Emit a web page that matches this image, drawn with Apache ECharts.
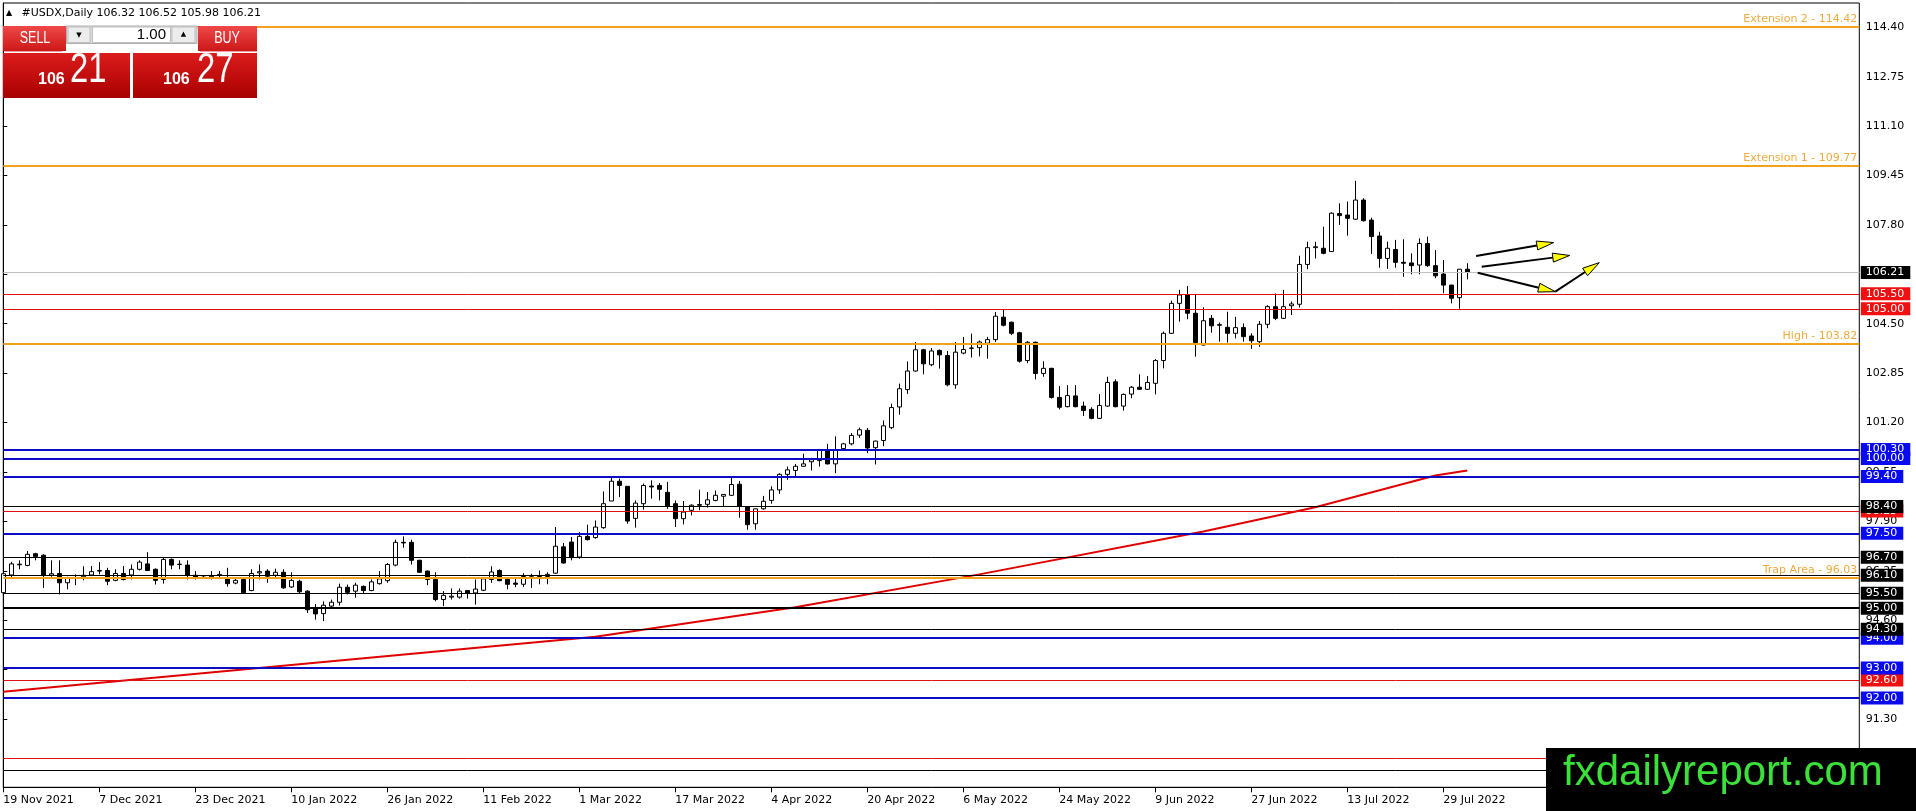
<!DOCTYPE html>
<html>
<head>
<meta charset="UTF-8">
<title>#USDX,Daily</title>
<style>
html, body { margin: 0; padding: 0; background: #fff; }
#main { width: 1916px; height: 811px; }
</style>
</head>
<body>
<div id="main"></div>
<script src="https://cdn.jsdelivr.net/npm/echarts@6/dist/echarts.min.js"></script>
<script>
// daily bars, one per weekday starting 19 Nov 2021
var startDate = [2021, 10, 19];
var totalSlots = 233; // bars + empty space to the right

var opens = [
	95.52, 96.11, 96.47, 96.43, 96.82, 96.77, 96.10, 96.16, 95.85, 96.00, 96.05, 96.11,
	96.24, 96.26, 95.93, 96.16, 96.11, 96.30, 96.48, 96.30, 95.96, 96.63, 96.46, 96.44,
	96.10, 96.02, 96.05, 96.10, 96.02, 95.84, 95.96, 95.59, 96.18, 96.24, 96.10, 96.20,
	95.71, 95.90, 95.57, 94.99, 94.82, 95.07, 95.20, 95.70, 95.57, 95.73, 95.59, 95.82,
	95.92, 96.44, 97.20, 97.20, 96.60, 96.24, 95.96, 95.29, 95.37, 95.37, 95.59, 95.51,
	95.60, 95.96, 96.26, 95.97, 95.84, 95.80, 96.03, 96.03, 96.06, 96.17, 97.05, 97.21,
	96.71, 97.40, 97.36, 97.69, 98.58, 99.24, 99.07, 98.00, 98.49, 99.08, 99.10, 98.87,
	98.49, 97.99, 98.27, 98.46, 98.47, 98.60, 98.74, 98.77, 99.14, 98.38, 97.82, 98.32,
	98.60, 98.95, 99.47, 99.60, 99.74, 99.89, 99.93, 100.25, 99.82, 100.33, 100.49, 100.78,
	100.94, 100.36, 100.60, 101.03, 101.72, 102.30, 102.92, 103.63, 103.13, 103.61, 103.44, 102.46,
	103.52, 103.68, 103.70, 103.85, 103.97, 104.72, 104.55, 104.20, 103.27, 103.88, 102.84, 103.01,
	102.04, 101.73, 102.09, 101.75, 101.64, 101.34, 101.75, 102.56, 101.75, 102.15, 102.38, 102.31,
	102.51, 103.27, 104.18, 105.18, 105.46, 104.85, 103.79, 104.68, 104.47, 104.38, 104.18, 104.37,
	104.09, 103.90, 104.48, 105.07, 104.68, 105.10, 105.15, 106.48, 107.04, 107.02, 106.91, 108.18,
	108.13, 107.99, 108.63, 107.96, 107.43, 106.68, 106.98, 106.55, 106.53, 106.46, 107.18, 106.44,
	106.16, 105.79, 105.37, 106.32
];
var highs = [
	96.20, 96.55, 96.60, 96.91, 96.85, 96.80, 96.60, 96.60, 96.05, 96.13, 96.40, 96.41,
	96.54, 96.35, 96.30, 96.41, 96.46, 96.60, 96.87, 96.33, 96.68, 96.66, 96.60, 96.60,
	96.24, 96.08, 96.24, 96.24, 96.35, 96.02, 96.00, 96.30, 96.46, 96.30, 96.32, 96.30,
	96.20, 95.95, 95.60, 95.14, 95.23, 95.29, 95.82, 95.79, 95.85, 95.76, 95.96, 96.24,
	96.51, 97.29, 97.40, 97.29, 96.62, 96.26, 96.20, 95.57, 95.66, 95.66, 95.60, 95.96,
	96.02, 96.40, 96.30, 96.00, 95.98, 96.17, 96.15, 96.26, 96.20, 97.71, 97.18, 97.38,
	97.54, 97.79, 97.93, 98.90, 99.38, 99.33, 99.07, 98.60, 99.16, 99.27, 99.18, 99.22,
	98.60, 98.58, 98.47, 98.96, 98.88, 98.93, 98.80, 99.40, 99.25, 98.40, 98.32, 98.75,
	99.07, 99.51, 99.73, 99.82, 100.16, 100.02, 100.32, 100.49, 100.74, 100.52, 100.85, 101.03,
	101.02, 100.60, 101.27, 101.83, 102.50, 103.24, 103.89, 103.66, 103.69, 103.64, 103.59, 103.89,
	104.06, 104.17, 103.94, 104.06, 104.89, 104.97, 104.57, 104.23, 103.92, 103.90, 103.25, 103.03,
	102.42, 102.45, 102.45, 101.90, 101.71, 102.15, 102.73, 102.64, 102.17, 102.42, 102.81, 102.75,
	103.32, 104.24, 105.27, 105.63, 105.76, 105.46, 105.05, 104.79, 104.54, 104.90, 104.73, 104.51,
	104.18, 104.59, 105.12, 105.51, 105.63, 105.24, 106.77, 107.24, 107.24, 107.74, 108.22, 108.52,
	108.58, 109.27, 108.69, 108.04, 107.57, 107.24, 107.30, 107.32, 106.85, 107.35, 107.41, 106.96,
	106.63, 105.80, 106.33, 106.52
];
var lows = [
	95.50, 96.02, 96.30, 96.40, 96.60, 95.68, 96.05, 95.46, 95.63, 95.77, 95.93, 96.07,
	96.13, 95.77, 95.90, 95.93, 95.96, 96.26, 96.24, 95.79, 95.82, 96.30, 96.30, 95.96,
	95.96, 95.98, 95.96, 96.02, 95.72, 95.80, 95.50, 95.57, 95.96, 95.85, 96.00, 95.65,
	95.68, 95.50, 94.84, 94.62, 94.57, 95.03, 95.09, 95.46, 95.35, 95.48, 95.57, 95.79,
	95.85, 96.40, 97.02, 96.46, 96.18, 95.77, 95.23, 95.07, 95.29, 95.32, 95.32, 95.12,
	95.57, 95.85, 95.90, 95.63, 95.70, 95.71, 95.68, 95.80, 95.80, 96.15, 96.49, 96.60,
	96.65, 97.26, 97.32, 97.65, 98.58, 98.71, 97.82, 97.69, 98.29, 98.66, 98.60, 98.32,
	97.71, 97.80, 98.10, 98.27, 98.36, 98.57, 98.40, 98.75, 98.02, 97.62, 97.62, 98.29,
	98.49, 98.82, 99.29, 99.38, 99.73, 99.60, 99.73, 99.80, 99.51, 100.30, 100.44, 100.69,
	100.18, 99.80, 100.41, 100.98, 101.46, 102.16, 102.90, 102.81, 103.08, 103.00, 102.41, 102.33,
	103.48, 103.37, 103.41, 103.33, 103.89, 104.41, 104.12, 103.20, 103.18, 102.64, 102.73, 102.00,
	101.64, 101.71, 101.71, 101.42, 101.31, 101.32, 101.73, 101.71, 101.60, 102.01, 102.29, 102.29,
	102.14, 103.01, 104.16, 104.57, 104.65, 103.40, 103.77, 104.20, 103.90, 103.87, 104.01, 103.90,
	103.66, 103.73, 104.35, 104.62, 104.66, 104.79, 105.04, 106.32, 106.68, 106.82, 106.90, 107.80,
	107.44, 107.97, 107.91, 106.83, 106.37, 106.33, 106.37, 106.07, 106.15, 106.15, 106.40, 106.02,
	105.52, 105.18, 105.00, 105.98
];
var closes = [
	96.15, 96.48, 96.45, 96.80, 96.73, 96.11, 96.15, 95.85, 96.00, 96.02, 96.10, 96.22,
	96.26, 95.90, 96.16, 95.96, 96.30, 96.54, 96.26, 95.93, 96.63, 96.44, 96.47, 96.11,
	96.02, 96.04, 96.08, 96.13, 95.82, 95.93, 95.52, 96.16, 96.22, 96.07, 96.20, 95.68,
	95.93, 95.55, 94.95, 94.81, 95.10, 95.20, 95.70, 95.53, 95.77, 95.59, 95.88, 95.98,
	96.46, 97.20, 97.18, 96.60, 96.20, 95.96, 95.29, 95.43, 95.40, 95.57, 95.51, 95.64,
	95.98, 96.21, 95.92, 95.80, 95.80, 96.06, 96.05, 96.06, 96.13, 97.07, 96.51, 96.69,
	97.40, 97.29, 97.71, 98.49, 99.24, 99.10, 97.91, 98.51, 99.10, 99.05, 98.97, 98.40,
	97.99, 98.21, 98.44, 98.44, 98.62, 98.77, 98.80, 99.13, 98.40, 97.79, 98.32, 98.57,
	98.95, 99.47, 99.62, 99.74, 99.82, 99.96, 100.29, 99.82, 100.29, 100.49, 100.77, 100.96,
	100.35, 100.58, 101.09, 101.70, 102.33, 102.92, 103.63, 103.16, 103.59, 103.46, 102.46, 103.55,
	103.64, 103.69, 103.89, 103.97, 104.75, 104.45, 104.18, 103.25, 103.88, 102.84, 103.01, 102.04,
	101.71, 102.10, 101.73, 101.60, 101.34, 101.77, 102.54, 101.73, 102.14, 102.38, 102.31, 102.54,
	103.27, 104.18, 105.18, 105.46, 104.85, 103.87, 104.60, 104.43, 104.45, 104.18, 104.37, 104.07,
	103.93, 104.48, 105.07, 104.68, 105.07, 105.16, 106.48, 107.04, 107.07, 106.85, 108.19, 108.11,
	108.02, 108.63, 107.94, 107.41, 106.68, 107.02, 106.55, 106.52, 106.44, 107.18, 106.44, 106.10,
	105.79, 105.35, 106.32, 106.21
];

// red moving average, read at a few bars
var maBars = [0, 74, 99, 122, 150, 164, 179, 183];
var maValues = [92.21, 94.05, 95.03, 96.13, 97.56, 98.37, 99.43, 99.60];

var priceTicks = [91.30, 92.95, 94.60, 96.25, 97.90, 99.55, 101.20, 102.85, 104.50, 106.15, 107.80, 109.45, 111.10, 112.75, 114.40];

// horizontal levels
var orangeLevels = [114.42, 109.77, 103.82, 96.03];
var orangeNames = ['Extension 2', 'Extension 1', 'High', 'Trap Area'];
var redLevels = [105.50, 105.00, 98.25, 92.60, 90.00];
var blueLevels = [100.30, 100.00, 99.40, 97.50, 94.00, 93.00, 92.00];
var blackLevels = [98.40, 96.70, 96.10, 95.50, 95.00, 94.30, 89.60];
var lastPrice = 106.21;

// arrows: bar from, price from, bar to, price to
var arrows = [
	[184.1, 106.76, 193.8, 107.21],
	[184.8, 106.40, 195.8, 106.78],
	[184.3, 106.20, 194.0, 105.57],
	[194.0, 105.57, 199.5, 106.54]
];

var fontName = "'DejaVu Sans', Verdana, sans-serif";
var panelFont = "'Liberation Sans', Arial, sans-serif";
var months = ['Jan', 'Feb', 'Mar', 'Apr', 'May', 'Jun', 'Jul', 'Aug', 'Sep', 'Oct', 'Nov', 'Dec'];

var categories = [];
var day = new Date(Date.UTC(startDate[0], startDate[1], startDate[2]));
while (categories.length < totalSlots) {
	var wd = day.getUTCDay();
	if (wd !== 0 && wd !== 6) {
		categories.push(day.getUTCDate() + ' ' + months[day.getUTCMonth()] + ' ' + day.getUTCFullYear());
	}
	day.setUTCDate(day.getUTCDate() + 1);
}
var barCount = opens.length;

var candles = [];
for (var i = 0; i < barCount; i++) {
	candles.push([opens[i], closes[i], lows[i], highs[i]]);
}

var maData = [];
for (var i = 0; i < barCount; i++) maData.push(null);
for (var k = 0; k < maBars.length; k++) maData[maBars[k]] = maValues[k];

function boxLine(v, color, width, boxColor) {
	return {
		yAxis: v,
		lineStyle: { color: color, width: width, type: 'solid' },
		label: {
			show: true, position: 'end', distance: 1.5,
			formatter: v.toFixed(2), color: '#fff', backgroundColor: boxColor,
			padding: [1, 6, 0, 5], fontFamily: fontName, fontSize: 11, lineHeight: 12
		}
	};
}

var levelData = [];
for (var k = 0; k < orangeLevels.length; k++) {
	levelData.push({
		yAxis: orangeLevels[k],
		lineStyle: { color: '#f2a31c', width: 2, type: 'solid' },
		label: {
			show: true, position: 'insideEndTop', distance: 2,
			formatter: orangeNames[k] + ' - ' + orangeLevels[k].toFixed(2),
			color: '#f0aa3c', fontFamily: fontName, fontSize: 11
		}
	});
}
levelData.push(boxLine(lastPrice, '#c0c0c0', 1, '#000'));
for (var k = 0; k < redLevels.length; k++) levelData.push(boxLine(redLevels[k], '#e01010', 1, '#f01010'));
for (var k = 0; k < blueLevels.length; k++) levelData.push(boxLine(blueLevels[k], '#0c0cc0', 2, '#0a0af0'));
for (var k = 0; k < blackLevels.length; k++) {
	levelData.push(boxLine(blackLevels[k], '#000', blackLevels[k] === 95.00 ? 2 : 1, '#000'));
}

function showEvery12(idx) {
	return idx % 12 === 0 && idx < barCount;
}

var myChart = echarts.init(document.getElementById('main'));

var option = {
	animation: false,
	backgroundColor: '#fff',
	grid: {
		left: 3.3, right: 56.7, top: 3, bottom: 23.7,
		show: true, borderColor: '#000', borderWidth: 1, backgroundColor: 'transparent'
	},
	xAxis: [{
		type: 'category',
		data: categories,
		boundaryGap: false,
		axisLine: { lineStyle: { color: '#000', width: 1 } },
		axisTick: { show: true, length: 5, interval: showEvery12, lineStyle: { color: '#000' } },
		axisLabel: {
			interval: showEvery12, align: 'left', margin: 7, color: '#000',
			fontFamily: fontName, fontSize: 11
		},
		splitLine: { show: false }
	}, {
		type: 'value', min: 0, max: totalSlots - 1, show: false
	}],
	yAxis: {
		type: 'value',
		position: 'right',
		min: 89.02,
		max: 115.21,
		axisLine: { show: true, lineStyle: { color: '#000', width: 1 } },
		axisTick: { show: true, length: 4, customValues: priceTicks, lineStyle: { color: '#000' } },
		axisLabel: {
			customValues: priceTicks, margin: 6.5, color: '#000',
			fontFamily: fontName, fontSize: 11,
			formatter: function (v) { return v.toFixed(2); }
		},
		splitLine: { show: false }
	},
	series: [{
		type: 'candlestick',
		xAxisIndex: 0,
		data: candles,
		barWidth: 4.5,
		itemStyle: {
			color: '#fff', color0: '#000',
			borderColor: '#000', borderColor0: '#000', borderWidth: 1
		},
		markLine: {
			silent: true,
			symbol: ['none', 'none'],
			animation: false,
			data: levelData
		}
	}, {
		type: 'line',
		xAxisIndex: 0,
		data: maData,
		connectNulls: true,
		showSymbol: false,
		symbol: 'none',
		lineStyle: { color: '#e00000', width: 2 },
		z: 3
	}, {
		type: 'custom',
		xAxisIndex: 1,
		data: arrows,
		encode: { x: [0, 2], y: [1, 3] },
		z: 5,
		renderItem: function (params, api) {
			var p1 = api.coord([api.value(0), api.value(1)]);
			var p2 = api.coord([api.value(2), api.value(3)]);
			var ang = Math.atan2(p2[1] - p1[1], p2[0] - p1[0]);
			var len = 17, half = 4.5;
			var bx = p2[0] - len * Math.cos(ang), by = p2[1] - len * Math.sin(ang);
			var nx = -Math.sin(ang) * half, ny = Math.cos(ang) * half;
			return {
				type: 'group',
				children: [{
					type: 'line',
					shape: { x1: p1[0], y1: p1[1], x2: bx, y2: by },
					style: { stroke: '#000', lineWidth: 2 }
				}, {
					type: 'polygon',
					shape: { points: [[p2[0], p2[1]], [bx + nx, by + ny], [bx - nx, by - ny]] },
					style: { fill: '#ffff00', stroke: '#000', lineWidth: 1 }
				}]
			};
		}
	}],
	graphic: {
		elements: [
			// title
			{ type: 'text', x: 9, y: 12.5, z: 100, style: { text: '\u25B2', font: "8px " + fontName, fill: '#000', align: 'center', verticalAlign: 'middle' } },
			{ type: 'text', x: 21.5, y: 12.7, z: 100, style: { text: '#USDX,Daily 106.32 106.52 105.98 106.21', font: "11px " + fontName, fill: '#000', align: 'left', verticalAlign: 'middle' } },
			// one click panel
			{ type: 'rect', z: 100, shape: { x: 3, y: 26, width: 63, height: 25 },
				style: { fill: { type: 'linear', x: 0, y: 0, x2: 0, y2: 1, colorStops: [{ offset: 0, color: '#f04848' }, { offset: 1, color: '#cc1818' }] } } },
			{ type: 'rect', z: 100, shape: { x: 198, y: 26, width: 59, height: 25 },
				style: { fill: { type: 'linear', x: 0, y: 0, x2: 0, y2: 1, colorStops: [{ offset: 0, color: '#f04848' }, { offset: 1, color: '#cc1818' }] } } },
			{ type: 'line', z: 101, shape: { x1: 4, y1: 51.5, x2: 62, y2: 51.5 }, style: { stroke: '#f5a0a0', lineWidth: 1 } },
			{ type: 'line', z: 101, shape: { x1: 200, y1: 51.5, x2: 257, y2: 51.5 }, style: { stroke: '#f5a0a0', lineWidth: 1 } },
			{ type: 'text', x: 35, y: 38.5, z: 101, scaleX: 0.78, style: { text: 'SELL', font: "16px " + panelFont, fill: '#fff', align: 'center', verticalAlign: 'middle' } },
			{ type: 'text', x: 227, y: 38.5, z: 101, scaleX: 0.78, style: { text: 'BUY', font: "16px " + panelFont, fill: '#fff', align: 'center', verticalAlign: 'middle' } },
			{ type: 'rect', z: 100, shape: { x: 66.5, y: 26, width: 130.5, height: 17.5 }, style: { fill: '#d9d9d9', stroke: '#b0b0b0', lineWidth: 1 } },
			{ type: 'rect', z: 101, shape: { x: 68, y: 27, width: 22, height: 15.5 }, style: { fill: '#ececec', stroke: '#c0c0c0', lineWidth: 1 } },
			{ type: 'rect', z: 101, shape: { x: 92.5, y: 27, width: 78, height: 15.5 }, style: { fill: '#fff', stroke: '#c0c0c0', lineWidth: 1 } },
			{ type: 'rect', z: 101, shape: { x: 172, y: 27, width: 23, height: 15.5 }, style: { fill: '#ececec', stroke: '#c0c0c0', lineWidth: 1 } },
			{ type: 'text', x: 79, y: 35, z: 102, style: { text: '\u25BC', font: "7px " + fontName, fill: '#000', align: 'center', verticalAlign: 'middle' } },
			{ type: 'text', x: 183.5, y: 34.5, z: 102, style: { text: '\u25B2', font: "7px " + fontName, fill: '#000', align: 'center', verticalAlign: 'middle' } },
			{ type: 'text', x: 166, y: 35, z: 102, style: { text: '1.00', font: "15px " + panelFont, fill: '#000', align: 'right', verticalAlign: 'middle' } },
			{ type: 'rect', z: 100, shape: { x: 3, y: 53, width: 127, height: 45 },
				style: { fill: { type: 'linear', x: 0, y: 0, x2: 0, y2: 1, colorStops: [{ offset: 0, color: '#dc1c1c' }, { offset: 1, color: '#a80000' }] } } },
			{ type: 'rect', z: 100, shape: { x: 133, y: 53, width: 124, height: 45 },
				style: { fill: { type: 'linear', x: 0, y: 0, x2: 0, y2: 1, colorStops: [{ offset: 0, color: '#dc1c1c' }, { offset: 1, color: '#a80000' }] } } },
			{ type: 'text', x: 38, y: 80, z: 101, style: { text: '106', font: "bold 16px " + panelFont, fill: '#fff', align: 'left', verticalAlign: 'middle' } },
			{ type: 'text', x: 70, y: 70.5, z: 101, scaleX: 0.78, style: { text: '21', font: "42px " + panelFont, fill: '#fff', align: 'left', verticalAlign: 'middle' } },
			{ type: 'text', x: 163, y: 80, z: 101, style: { text: '106', font: "bold 16px " + panelFont, fill: '#fff', align: 'left', verticalAlign: 'middle' } },
			{ type: 'text', x: 197, y: 70.5, z: 101, scaleX: 0.78, style: { text: '27', font: "42px " + panelFont, fill: '#fff', align: 'left', verticalAlign: 'middle' } },
			// site mark
			{ type: 'rect', z: 100, shape: { x: 1546, y: 748, width: 370, height: 63 }, style: { fill: '#000' } },
			{ type: 'text', x: 1563, y: 773.5, z: 101, style: { text: 'fxdailyreport.com', font: "42px " + panelFont, fill: '#3be03b', align: 'left', verticalAlign: 'middle' } }
		]
	}
};

myChart.setOption(option);
</script>
</body>
</html>
